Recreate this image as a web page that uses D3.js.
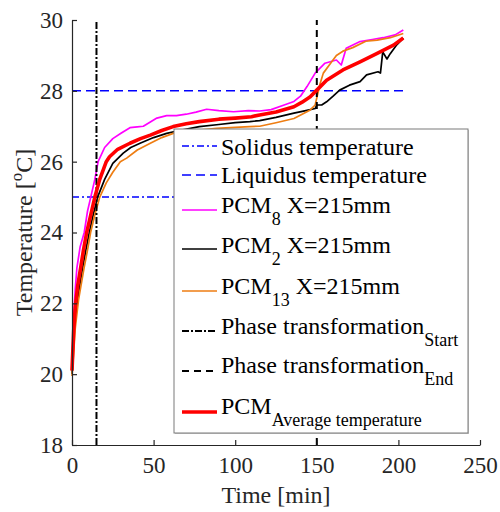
<!DOCTYPE html>
<html><head><meta charset="utf-8">
<script src="https://cdn.jsdelivr.net/npm/d3@7"></script>
<style>body{margin:0;background:#fff}svg{display:block}</style>
</head><body>
<script>
// ---- data ----
const xTicks = [0, 50, 100, 150, 200, 250];
const yTicks = [18, 20, 22, 24, 26, 28, 30];
const solidusTemp = 25;
const liquidusTemp = 28;
const refLineEnd = 203;
const phaseStart = 15;
const phaseEnd = 150;
const pcm8 = [[0,20.2],[1,21.6],[2,22.4],[3,23.0],[5,23.6],[7.5,24.0],[9.5,24.6],[11.5,25.0],[14,25.5],[16,26.0],[20,26.4],[25,26.65],[30,26.8],[35.5,26.96],[40,26.98],[43.7,27.0],[48,27.12],[52,27.23],[58,27.3],[64,27.3],[70,27.34],[76,27.4],[82.5,27.48],[90,27.44],[99,27.41],[108,27.44],[115,27.43],[122,27.47],[130,27.6],[136,27.7],[140,27.85],[144,28.12],[149,28.5],[155,28.78],[162,28.87],[165,28.73],[168,29.2],[176.5,29.39],[184,29.45],[190.7,29.5],[198,29.58],[203,29.72]];
const pcm2 = [[0,20.0],[1,20.9],[2,21.6],[4,22.3],[6.5,23.0],[8.5,23.5],[10.6,24.0],[13,24.5],[15.7,25.0],[20,25.5],[25,25.95],[31.4,26.24],[36,26.4],[41.7,26.52],[50,26.68],[58,26.8],[68,26.9],[78,26.99],[90,27.05],[100,27.1],[109,27.13],[115,27.16],[125,27.25],[136,27.37],[144,27.45],[149,27.5],[150,27.6],[153,27.6],[156,27.69],[160,27.85],[164,28.02],[170,28.16],[176.5,28.26],[180.5,28.45],[187.5,28.54],[189,28.5],[190.4,29.1],[193,28.9],[195,29.05],[199,29.3],[203,29.49]];
const pcm13 = [[0,19.95],[1,20.6],[2,21.3],[4,22.1],[7.4,23.0],[9.5,23.5],[11.4,24.0],[14,24.5],[17,25.0],[21,25.4],[25,25.7],[29.6,26.0],[33.5,26.1],[40,26.33],[48,26.52],[55,26.68],[62,26.8],[75,26.88],[88.6,26.94],[100,26.97],[109,26.99],[115,27.0],[125,27.1],[136,27.22],[146,27.46],[149,27.6],[150,27.8],[152,28.2],[154,28.5],[158,28.75],[162,29.0],[166,29.12],[172,29.22],[180,29.4],[187,29.43],[195,29.5],[203,29.62]];
const pcmAvg = [[0,20.1],[1,21.2],[2,21.9],[3.5,22.5],[5.3,23.0],[7,23.5],[9,24.0],[11.5,24.5],[14,25.0],[17,25.5],[21,26.0],[23,26.14],[28,26.35],[35.5,26.52],[42,26.65],[48,26.75],[55,26.88],[62,26.99],[70,27.07],[78,27.13],[90,27.2],[100,27.23],[110,27.27],[115,27.32],[125,27.4],[136,27.55],[141,27.68],[146,27.83],[150,28.02],[156,28.3],[166,28.59],[176.5,28.82],[187,29.06],[197,29.29],[203,29.49]];
const legendItems = [
  {key:"solidus", main:"Solidus temperature", sub:"", tail:""},
  {key:"liquidus", main:"Liquidus temperature", sub:"", tail:""},
  {key:"pcm8", main:"PCM", sub:"8", tail:" X=215mm"},
  {key:"pcm2", main:"PCM", sub:"2", tail:" X=215mm"},
  {key:"pcm13", main:"PCM", sub:"13", tail:" X=215mm"},
  {key:"start", main:"Phase transformation", sub:"Start", tail:""},
  {key:"end", main:"Phase transformation", sub:"End", tail:""},
  {key:"avg", main:"PCM", sub:"Average temperature", tail:""}
];

// ---- styles / layout ----
const FONT = "'Liberation Serif', 'DejaVu Serif', 'Noto Serif', serif";
const styles = {
  solidus:{color:"#0000ff", width:1.5, dash:"7,3,2,3"},
  liquidus:{color:"#0000ff", width:1.5, dash:"9,5"},
  pcm8:{color:"#ff00ff", width:1.7, dash:null},
  pcm2:{color:"#000000", width:1.7, dash:null},
  pcm13:{color:"#ee7d12", width:1.7, dash:null},
  start:{color:"#000000", width:2, dash:"7,2,2,2"},
  end:{color:"#000000", width:2, dash:"7,5"},
  avg:{color:"#ff0000", width:3.6, dash:null}
};
const L = {left:72, right:480, top:20, bottom:445};
const W = 500, H = 512;

const svg = d3.select("body").append("svg").attr("width", W).attr("height", H)
  .style("font-family", FONT);
const x = d3.scaleLinear().domain([0, 250]).range([L.left, L.right]);
const y = d3.scaleLinear().domain([18, 30]).range([L.bottom, L.top]);

const line = d3.line().x(d => x(d[0])).y(d => y(d[1]));
const plot = svg.append("g");

function drawSeries(data, st) {
  plot.append("path").datum(data).attr("d", line).attr("fill", "none")
    .attr("stroke", st.color).attr("stroke-width", st.width)
    .attr("stroke-linejoin", "round")
    .attr("stroke-dasharray", st.dash);
}
drawSeries([[0, solidusTemp], [refLineEnd, solidusTemp]], styles.solidus);
drawSeries([[0, liquidusTemp], [refLineEnd, liquidusTemp]], styles.liquidus);
drawSeries(pcm8, styles.pcm8);
drawSeries(pcm2, styles.pcm2);
drawSeries(pcm13, styles.pcm13);
drawSeries([[phaseStart, 18], [phaseStart, 30]], styles.start);
drawSeries([[phaseEnd, 18], [phaseEnd, 30]], styles.end);
drawSeries(pcmAvg, styles.avg);

// axes
const axisColor = "#262626";
const xAxis = svg.append("g").attr("transform", `translate(0,${L.bottom})`)
  .call(d3.axisBottom(x).tickValues(xTicks).tickSizeInner(-5).tickSizeOuter(0).tickPadding(12));
const yAxis = svg.append("g").attr("transform", `translate(${L.left},0)`)
  .call(d3.axisLeft(y).tickValues(yTicks).tickSizeInner(-5).tickSizeOuter(0).tickPadding(9));
[xAxis, yAxis].forEach(a => {
  a.attr("font-family", null).style("font-family", FONT);
  a.select(".domain").attr("stroke", axisColor).attr("stroke-width", 1.2);
  a.selectAll(".tick line").attr("stroke", axisColor).attr("stroke-width", 1.2);
  a.selectAll(".tick text").attr("font-size", 23).attr("fill", axisColor).style("font-family", FONT);
});
xAxis.selectAll(".tick text").attr("dy", "0.71em");

// axis titles
svg.append("text").attr("x", (L.left + L.right) / 2).attr("y", 503)
  .attr("text-anchor", "middle").attr("font-size", 24).attr("fill", axisColor).style("font-family", FONT).text("Time [min]");
const yl = svg.append("text").attr("transform", `translate(32,${(L.top + L.bottom) / 2}) rotate(-90)`)
  .attr("text-anchor", "middle").attr("font-size", 24).attr("fill", axisColor).style("font-family", FONT);
yl.append("tspan").text("Temperature [");
yl.append("tspan").attr("font-size", 17).attr("dy", -10).text("o");
yl.append("tspan").attr("dy", 10).text("C]");

// legend
const leg = {x:174, y:129, w:294, h:304, lineX1:182, lineX2:217, textX:221};
const baselines = [155, 183, 213, 253, 294, 334, 373, 414];
const lineOffsets = [-9, -8, -3, -4, -3, -3, -2, -2];
const lg = svg.append("g");
lg.append("rect").attr("x", leg.x + 1).attr("y", leg.y + 1).attr("width", leg.w).attr("height", leg.h)
  .attr("fill", "#c8c8c8");
lg.append("rect").attr("x", leg.x).attr("y", leg.y).attr("width", leg.w).attr("height", leg.h)
  .attr("fill", "#fff").attr("stroke", "#7a7a7a").attr("stroke-width", 1);
legendItems.forEach((it, i) => {
  const st = styles[it.key];
  const by = baselines[i];
  lg.append("line").attr("x1", leg.lineX1).attr("x2", leg.lineX2)
    .attr("y1", by + lineOffsets[i]).attr("y2", by + lineOffsets[i])
    .attr("stroke", st.color).attr("stroke-width", st.width).attr("stroke-dasharray", st.dash);
  const t = lg.append("text").attr("x", leg.textX).attr("y", by).attr("font-size", 24)
    .attr("fill", "#000").style("font-family", FONT);
  t.append("tspan").text(it.main);
  if (it.sub) t.append("tspan").attr("font-size", 18).attr("dy", 12).text(it.sub);
  if (it.tail) t.append("tspan").attr("dy", -12).text(it.tail);
});
</script>
</body></html>
